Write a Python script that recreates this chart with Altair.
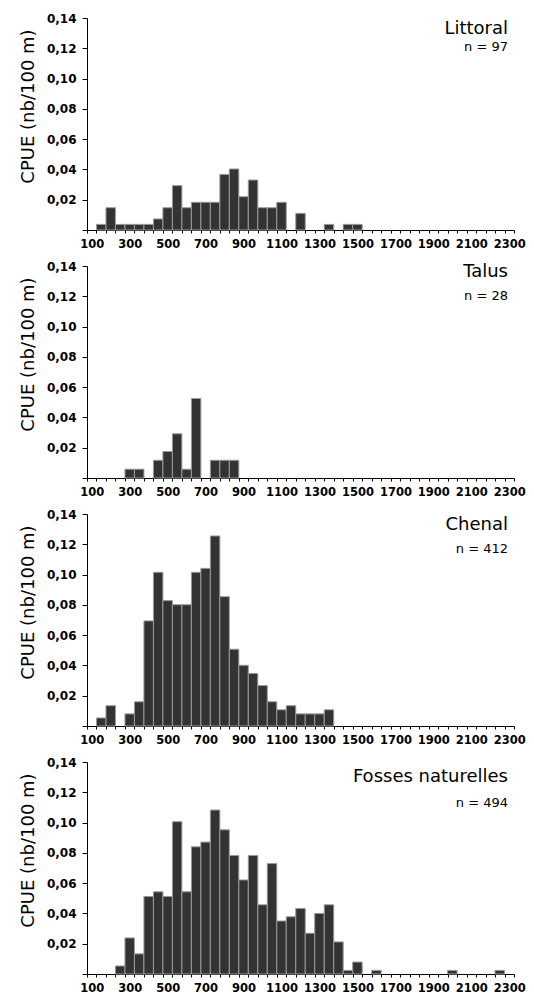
import altair as alt
import pandas as pd

# Fish length classes (mm, 50 mm bins labelled by their centre) and CPUE per habitat
littoral_bins = [150, 200, 250, 300, 350, 400, 450, 500, 550, 600, 650, 700,
                 750, 800, 850, 900, 950, 1000, 1050, 1100, 1200, 1350, 1450, 1500]
littoral_cpue = [0.0037, 0.0147, 0.0037, 0.0037, 0.0037, 0.0037, 0.0073, 0.0147,
                 0.0293, 0.0147, 0.0183, 0.0183, 0.0183, 0.0367, 0.0403, 0.0220,
                 0.0330, 0.0147, 0.0147, 0.0183, 0.0110, 0.0037, 0.0037, 0.0037]

talus_bins = [300, 350, 450, 500, 550, 600, 650, 750, 800, 850]
talus_cpue = [0.0058, 0.0058, 0.0117, 0.0175, 0.0292, 0.0058, 0.0525,
              0.0117, 0.0117, 0.0117]

chenal_bins = [150, 200, 300, 350, 400, 450, 500, 550, 600, 650, 700, 750,
               800, 850, 900, 950, 1000, 1050, 1100, 1150, 1200, 1250, 1300, 1350]
chenal_cpue = [0.0053, 0.0134, 0.0080, 0.0160, 0.0694, 0.1015, 0.0828, 0.0801,
               0.0801, 0.1015, 0.1041, 0.1255, 0.0854, 0.0507, 0.0401, 0.0347,
               0.0267, 0.0160, 0.0107, 0.0134, 0.0080, 0.0080, 0.0080, 0.0107]

fosses_bins = [250, 300, 350, 400, 450, 500, 550, 600, 650, 700, 750, 800, 850,
               900, 950, 1000, 1050, 1100, 1150, 1200, 1250, 1300, 1350, 1400,
               1450, 1500, 1600, 2000, 2250]
fosses_cpue = [0.0053, 0.0238, 0.0133, 0.0512, 0.0543, 0.0512, 0.1006, 0.0543,
               0.0840, 0.0871, 0.1083, 0.0952, 0.0783, 0.0621, 0.0783, 0.0457,
               0.0729, 0.0350, 0.0378, 0.0433, 0.0269, 0.0400, 0.0457, 0.0212,
               0.0024, 0.0079, 0.0024, 0.0024, 0.0024]

habitats = ["Littoral", "Talus", "Chenal", "Fosses naturelles"]
counts = ["n = 97", "n = 28", "n = 412", "n = 494"]
series = [(littoral_bins, littoral_cpue), (talus_bins, talus_cpue),
          (chenal_bins, chenal_cpue), (fosses_bins, fosses_cpue)]

y_ticks = [0, 0.02, 0.04, 0.06, 0.08, 0.10, 0.12, 0.14]

# layout / styling
W, H = 427, 212
FONT = "DejaVu Sans"
title_y = [16, 11, 16, 20]
count_y = [33, 34, 39, 45]
band_edges = list(range(75, 2326, 50))
half_band_px = W / 45 / 2


def panel(i):
    bins, cpue = series[i]
    df = pd.DataFrame({"size": bins, "cpue": cpue})

    x_axis = alt.Axis(
        values=band_edges,
        labelExpr="(datum.value + 25) % 200 == 100 && datum.value < 2300 ? format(datum.value + 25, 'd') : ''",
        labelOffset=half_band_px, tickSize=3, labelPadding=5,
        labelFont=FONT, labelFontWeight="bold", labelFontSize=11.5, labelColor="black",
        domainColor="black", tickColor="black", grid=False, title=None,
        labelOverlap=False, labelFlush=False,
    )
    y_axis = alt.Axis(
        values=y_ticks,
        labelExpr="datum.value < 0.001 ? '' : replace(format(datum.value, '.2f'), '.', ',')",
        tickSize=5, labelPadding=6,
        labelFont=FONT, labelFontWeight="bold", labelFontSize=12, labelColor="black",
        domainColor="black", tickColor="black", grid=False,
        title="CPUE (nb/100 m)", titleFont=FONT, titleFontSize=18,
        titleFontWeight="normal", titleColor="black",
        titleX=-54, titleY=88, titleAngle=-90, titleAlign="center",
        titleBaseline="alphabetic",
    )

    bars = alt.Chart(df).transform_calculate(
        lo="datum.size - 25", hi="datum.size + 25"
    ).mark_bar(fill="#333333", stroke="#9a9a9a", strokeWidth=1).encode(
        x=alt.X("lo:Q", scale=alt.Scale(domain=[75, 2325], nice=False, zero=False), axis=x_axis),
        x2="hi:Q",
        y=alt.Y("cpue:Q", scale=alt.Scale(domain=[0, 0.14], nice=False), axis=y_axis),
        y2=alt.datum(0),
    )

    name = alt.Chart(pd.DataFrame({"t": [habitats[i]]})).mark_text(
        font=FONT, fontSize=18, color="black", align="right", baseline="alphabetic"
    ).encode(x=alt.value(W - 6), y=alt.value(title_y[i]), text="t:N")

    n_text = alt.Chart(pd.DataFrame({"t": [counts[i]]})).mark_text(
        font=FONT, fontSize=13, color="black", align="right", baseline="alphabetic"
    ).encode(x=alt.value(W - 6), y=alt.value(count_y[i]), text="t:N")

    return alt.layer(bars, name, n_text).properties(width=W, height=H)


chart = alt.vconcat(
    *[panel(i) for i in range(4)], spacing=36, bounds="flush"
).properties(
    padding={"left": 18, "top": 12, "right": 5, "bottom": 5}
).configure_view(stroke=None)

chart.save("out.html", embed_options={"renderer": "svg", "actions": False})
